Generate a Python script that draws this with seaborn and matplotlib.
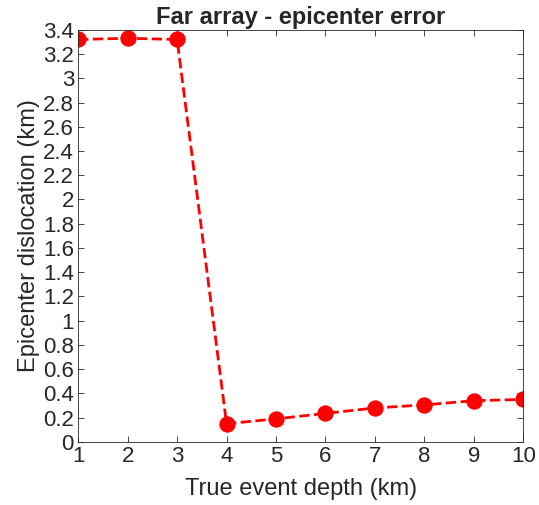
import seaborn as sns
import matplotlib.pyplot as plt
import numpy as np

# Data
depth_km = [1, 2, 3, 4, 5, 6, 7, 8, 9, 10]
epicenter_error_km = [3.32, 3.33, 3.32, 0.15, 0.19, 0.235, 0.28, 0.305, 0.34, 0.35]
y_ticks = np.round(np.arange(0, 3.41, 0.2), 1)
y_tick_labels = [f"{v:g}" for v in y_ticks]

sns.set_theme(style="ticks")
plt.rcParams["font.family"] = ["Liberation Sans", "DejaVu Sans"]

fig = plt.figure(figsize=(5.39, 5.05), dpi=100)
ax = fig.add_axes([0.145, 0.125, 0.826, 0.816])

sns.lineplot(
    x=depth_km,
    y=epicenter_error_km,
    ax=ax,
    color="#ff0000",
    linestyle="--",
    linewidth=2,
    marker="o",
    markersize=11,
    markeredgecolor="#ff0000",
)

ax.set_xlim(1, 10)
ax.set_ylim(0, 3.4)
ax.set_xticks(depth_km)
ax.set_yticks(y_ticks)
ax.set_yticklabels(y_tick_labels)
ax.tick_params(direction="in", labelsize=16, length=4, width=0.6, colors="#262626",
               top=True, right=True, pad=3)
for s in ax.spines.values():
    s.set_visible(True)
    s.set_linewidth(0.6)
    s.set_color("#262626")
ax.grid(False)

ax.set_xlabel("True event depth (km)", fontsize=17, color="#262626", labelpad=8)
ax.set_ylabel("Epicenter dislocation (km)", fontsize=17, color="#262626", labelpad=2)
ax.set_title("Far array - epicenter error", fontsize=17, fontweight="bold", pad=4)

plt.savefig("out.png", dpi=100)
